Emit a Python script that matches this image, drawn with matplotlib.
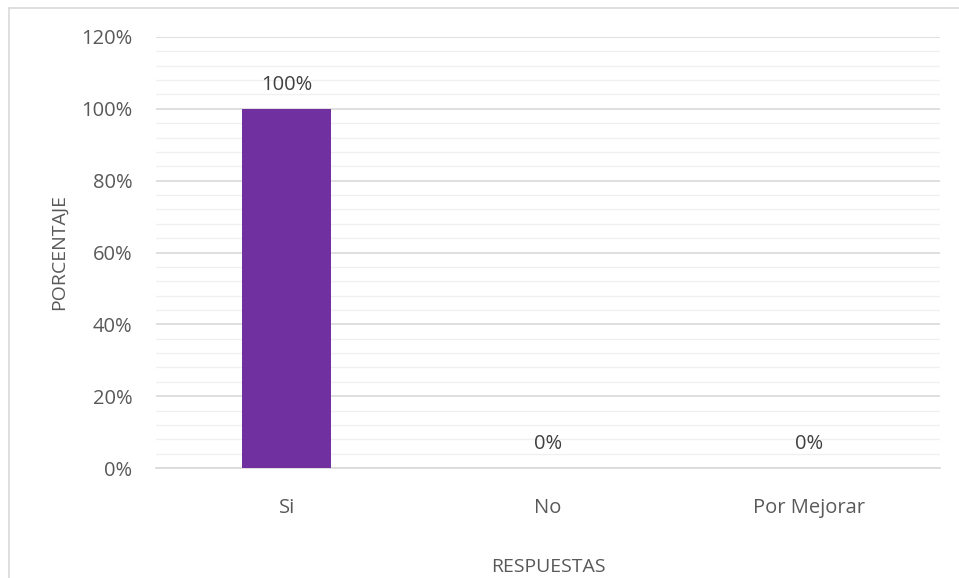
import matplotlib
matplotlib.use("Agg")
import matplotlib.pyplot as plt
from matplotlib.lines import Line2D
from matplotlib.ticker import MultipleLocator, PercentFormatter

categories = ["Si", "No", "Por Mejorar"]
values = [100, 0, 0]
labels = ["100%", "0%", "0%"]

plt.rcParams['font.family'] = ['Open Sans', 'DejaVu Sans']

fig = plt.figure(figsize=(9.59, 5.78), dpi=100)
ax = fig.add_axes([156/959, 1-468/578, 784/959, (468-37)/578])

x = range(len(categories))
ax.bar(x, values, width=0.34, color="#7030a0", zorder=3)
for xi, v, lab in zip(x, values, labels):
    ax.annotate(lab, (xi, v), xytext=(0, 17.5), textcoords="offset points",
                ha="center", va="center", fontsize=14.5, color="#404040")

ax.set_xlim(-0.5, 2.5)
ax.set_ylim(0, 120)
ax.yaxis.set_major_locator(MultipleLocator(20))
ax.yaxis.set_minor_locator(MultipleLocator(4))
ax.yaxis.set_major_formatter(PercentFormatter(decimals=0))
ax.grid(axis="y", which="major", color="#d9d9d9", linewidth=1.2, zorder=0)
ax.grid(axis="y", which="minor", color="#f0f0f0", linewidth=1.0, zorder=0)
for s in ["top", "right", "left"]:
    ax.spines[s].set_visible(False)
ax.spines["bottom"].set_color("#d9d9d9")
ax.spines["bottom"].set_linewidth(1.2)
ax.set_xticks(list(x))
ax.set_xticklabels(categories)
ax.tick_params(axis="both", which="both", length=0, labelsize=14.5, labelcolor="#595959")
ax.tick_params(axis="y", pad=17)
ax.tick_params(axis="x", pad=21.5)
ax.set_xlabel("RESPUESTAS", fontsize=14, color="#595959", va="center")
ax.set_ylabel("PORCENTAJE", fontsize=14, color="#595959", va="center")
ax.xaxis.set_label_coords(0.5, (468 - 567) / 431)
ax.yaxis.set_label_coords((59 - 156) / 784, 0.5)

# outer chart border (clipped at right and bottom)
fig.add_artist(Line2D([9/959, 9/959], [0, 1-8/578], transform=fig.transFigure, color="#d9d9d9", lw=1.2))
fig.add_artist(Line2D([9/959, 1], [1-8/578, 1-8/578], transform=fig.transFigure, color="#d9d9d9", lw=1.2))

fig.savefig("out.png", dpi=100)
